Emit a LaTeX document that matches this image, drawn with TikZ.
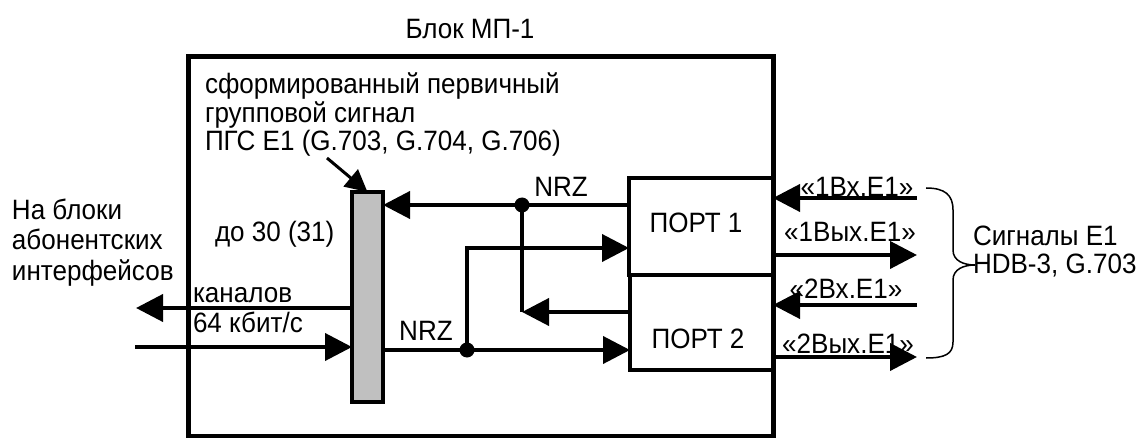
\documentclass[tikz,border=0pt]{standalone}
\usepackage{fontspec}
\setmainfont{Liberation Sans}[FakeStretch=0.93]
\usetikzlibrary{arrows.meta}
\definecolor{bargray}{RGB}{192,192,192}
\tikzset{
  txt/.style={inner sep=0pt, outer sep=0pt, font=\fontsize{28}{30}\selectfont},
  arr/.style={line width=4pt, -{Triangle[length=27pt,width=27pt]}},
  thinarr/.style={line width=3pt, -{Triangle[length=22pt,width=22pt]}},
  plain/.style={line width=4pt},
  boxstyle/.style={draw, line width=4pt, inner sep=0pt, outer sep=0pt},
  dot/.style={fill=black}
}
\begin{document}
\begin{tikzpicture}[x=1pt,y=-1pt]
\useasboundingbox (0,0) rectangle (1142,438);
% main block
\node[boxstyle, line width=5pt, minimum width=585pt, minimum height=379pt, anchor=north west] (blk) at (188,57) {};
% gray bar
\node[draw, fill=bargray, line width=3.5pt, inner sep=0pt, outer sep=0pt, minimum width=31pt, minimum height=210pt] (bar) at (367.5,297) {};
% ports
\node[boxstyle, minimum width=144pt, minimum height=97pt] (port1) at (701,226.5) {};
\node[boxstyle, minimum width=143pt, minimum height=95pt] (port2) at (701.5,322.5) {};
\node[txt, anchor=base] (p1t) at (696,233) {ПОРТ 1};
\node[txt, anchor=base] (p2t) at (698,348) {ПОРТ 2};
% titles
\node[txt, anchor=base] (title) at (470,39) {Блок МП-1};
\node[txt, anchor=base west] (tl1) at (205,94) {сформированный первичный};
\node[txt, anchor=base west] (tl2) at (205,123) {групповой сигнал};
\node[txt, anchor=base west] (tl3) at (205,151) {ПГС Е1 (G.703, G.704, G.706)};
\node[txt, anchor=base west] (do30) at (215,242) {до 30 (31)};
\node[txt, anchor=base west] (kan1) at (193,302) {каналов};
\node[txt, anchor=base west] (kan2) at (193,332) {64 кбит/с};
\node[txt, anchor=base west] (lf1) at (12,220) {На блоки};
\node[txt, anchor=base west] (lf2) at (12,250) {абонентских};
\node[txt, anchor=base west] (lf3) at (12,280) {интерфейсов};
\node[txt, anchor=base] (nrz1) at (561,197) {NRZ};
\node[txt, anchor=base] (nrz2) at (426,340) {NRZ};
\node[txt, anchor=base] (in1) at (857,197) {«1Вх.Е1»};
\node[txt, anchor=base] (out1) at (850,242) {«1Вых.Е1»};
\node[txt, anchor=base] (in2) at (846,298) {«2Вх.Е1»};
\node[txt, anchor=base] (out2) at (848,353) {«2Вых.Е1»};
\node[txt, anchor=base west] (sg1) at (973,245) {Сигналы Е1};
\node[txt, anchor=base west] (sg2) at (973,273) {HDB-3, G.703};
% coordinates
\coordinate (j1) at (522,205);
\coordinate (k1) at (522,312);
\coordinate (j2) at (467,350);
\coordinate (k2) at (467,248);
\coordinate (r1) at (917,198);
\coordinate (r2) at (917,255);
\coordinate (r3) at (917,305);
\coordinate (r4) at (917,357);
\coordinate (l1) at (136,308);
\coordinate (l2) at (135,347);
\coordinate (d1) at (327,158);
% connectors
\draw[arr] (port1.west|-j1) -- (bar.east|-j1);
\draw[plain] (j1) -- (k1);
\draw[arr] (port2.west|-k1) -- (k1);
\draw[arr] (bar.east|-j2) -- (port2.west|-j2);
\draw[arr] (j2) -- (k2) -- (port1.west|-k2);
\fill[dot] (j1) circle (7.5);
\fill[dot] (j2) circle (7.5);
\draw[arr] (r1) -- (port1.east|-r1);
\draw[arr] (port1.east|-r2) -- (r2);
\draw[arr] (r3) -- (port2.east|-r3);
\draw[arr] (port2.east|-r4) -- (r4);
\draw[arr] (bar.west|-l1) -- (l1);
\draw[arr] (l2) -- (bar.west|-l2);
\draw[thinarr] (d1) -- (bar.north);
% brace
\draw[line width=1.5pt] (926,188) .. controls (945,188) and (953,195) .. (953,210) -- (953,250)
  .. controls (953,261) and (964,265) .. (975,265)
  .. controls (964,265) and (953,269) .. (953,280) -- (953,342)
  .. controls (953,354) and (945,358) .. (926,358);
\end{tikzpicture}
\end{document}
